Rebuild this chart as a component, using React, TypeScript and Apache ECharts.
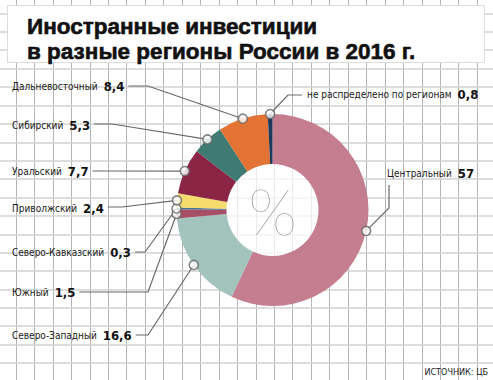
import React, { useEffect, useRef } from "react";
import * as echarts from "echarts";

const titleText = "Иностранные инвестиции\nв разные регионы России в 2016 г.";
const sourceText = "ИСТОЧНИК: ЦБ";
const regions = [
  "Центральный",
  "Северо-Западный",
  "Южный",
  "Северо-Кавказский",
  "Приволжский",
  "Уральский",
  "Сибирский",
  "Дальневосточный",
  "не распределено по регионам",
];
const shares = [57, 16.6, 1.5, 0.3, 2.4, 7.7, 5.3, 8.4, 0.8];
const colors = [
  "#C47E8F",
  "#A3C4BD",
  "#A84F68",
  "#4A6F8F",
  "#F6DC6C",
  "#8A2545",
  "#3F7B72",
  "#E27334",
  "#1C3A5B",
];

// layout only: label anchor and leader-line bend point per region
type Place = { x: number; y: number; side: "left" | "right" | "up"; bend: number[]; end?: number[] };
const placement: Place[] = [
  { x: 387, y: 173, side: "up", bend: [389, 208], end: [389, 185] },
  { x: 12, y: 335, side: "left", bend: [148, 335] },
  { x: 12, y: 292, side: "left", bend: [148, 292] },
  { x: 12, y: 252, side: "left", bend: [145, 252] },
  { x: 12, y: 208, side: "left", bend: [122, 207] },
  { x: 12, y: 171, side: "left", bend: [110, 171] },
  { x: 12, y: 125, side: "left", bend: [112, 124] },
  { x: 12, y: 86, side: "left", bend: [148, 86] },
  { x: 307, y: 94, side: "right", bend: [288, 95] },
];

const CX = 272.5;
const CY = 210;
const R0 = 46;
const R1 = 96;
const W = 493;
const H = 380;
const COND = "'DejaVu Sans Condensed', 'Liberation Sans Narrow', sans-serif";

export default function App() {
  const ref = useRef<HTMLDivElement>(null);
  useEffect(() => {
    document.body.style.margin = "0";
    const chart = echarts.init(ref.current!, null, { renderer: "svg" });

    const total = shares.reduce((a, b) => a + b, 0);
    const mids: number[] = [];
    let acc = 0;
    shares.forEach((v) => {
      mids.push(acc + v / 2);
      acc += v;
    });

    const grid: any[] = [];
    for (let x = 15.7; x < W; x += 18.45) {
      grid.push({
        type: "line",
        silent: true,
        z: -10,
        shape: { x1: Math.round(x) + 0.5, y1: 0, x2: Math.round(x) + 0.5, y2: H },
        style: { stroke: "#b4b4b4", lineWidth: 1 },
      });
    }
    for (let y = 13.7; y < H; y += 18.4) {
      grid.push({
        type: "line",
        silent: true,
        z: -10,
        shape: { x1: 0, y1: Math.round(y), x2: W, y2: Math.round(y) },
        style: { stroke: "#d2d2d2", lineWidth: 1.6 },
      });
    }

    chart.setOption({
      animation: false,
      backgroundColor: "#ffffff",
      title: {
        text: titleText,
        left: 22,
        top: 9,
        textStyle: {
          fontFamily: "'Liberation Sans', Arial, sans-serif",
          fontWeight: "bold",
          fontSize: 22.5,
          lineHeight: 25,
          color: "#111111",
          textBorderColor: "#111111",
          textBorderWidth: 0.6,
        },
      },
      graphic: [
        ...grid,
        {
          type: "rect",
          z: -5,
          silent: true,
          shape: { x: 7.5, y: 5.5, width: 477, height: 57 },
          style: { fill: "#ffffff", stroke: "#dcdcdc", lineWidth: 1 },
        },
        {
          type: "circle",
          z: -4,
          silent: true,
          shape: { cx: CX, cy: CY, r: R0 },
          style: { fill: "rgba(255,255,255,0.72)" },
        },
        {
          type: "text",
          z: 10,
          silent: true,
          x: CX,
          y: CY,
          style: {
            text: "%",
            fontFamily: "Lato, Roboto, sans-serif",
            fontWeight: 200,
            fontSize: 64,
            fill: "#8a929c",
            align: "center",
            verticalAlign: "middle",
          },
        },
        {
          type: "text",
          z: 10,
          silent: true,
          x: 488,
          y: 372,
          style: {
            text: sourceText,
            fontFamily: COND,
            fontSize: 9,
            fill: "#222222",
            align: "right",
            verticalAlign: "middle",
          },
        },
      ],
      polar: { center: [CX, CY], radius: R1 },
      angleAxis: { type: "value", min: 0, max: total, startAngle: 90, show: false },
      radiusAxis: { type: "value", min: 0, max: 1, show: false },
      series: [
        {
          type: "pie",
          center: [CX, CY],
          radius: [R0, R1],
          startAngle: 90,
          clockwise: true,
          avoidLabelOverlap: false,
          silent: true,
          data: regions.map((name, i) => ({
            name,
            value: shares[i],
            itemStyle: { color: colors[i] },
          })),
          label: {
            show: true,
            position: "outside",
            formatter: (p: any) =>
              `{n|${p.name}}{v|${String(p.value).replace(".", ",")}}`,
            rich: {
              n: { fontFamily: COND, fontSize: 10, color: "#1a1a1a" },
              v: {
                fontFamily: COND,
                fontSize: 13,
                fontWeight: "bold",
                color: "#111111",
                padding: [0, 0, 0, 6],
              },
            },
          },
          labelLine: {
            show: true,
            lineStyle: { color: "#6a6a6a", width: 1.2 },
          },
          labelLayout: (p: any) => {
            const pl = placement[p.dataIndex];
            const start = p.labelLinePoints ? p.labelLinePoints[0] : [CX, CY];
            let end: number[];
            if (pl.side === "left") end = [pl.x + p.labelRect.width + 4, pl.bend[1]];
            else if (pl.side === "right") end = [pl.x - 5, pl.bend[1]];
            else end = pl.end as number[];
            return {
              x: pl.x,
              y: pl.y,
              align: "left",
              verticalAlign: "middle",
              labelLinePoints: [start, pl.bend, end],
            };
          },
        },
        {
          type: "scatter",
          coordinateSystem: "polar",
          z: 6,
          silent: true,
          symbol: "circle",
          symbolSize: 9,
          itemStyle: { color: "#ffffff", borderColor: "#666666", borderWidth: 1.6 },
          data: mids.map((m) => [1, m]),
        },
      ],
    });
    return () => chart.dispose();
  }, []);
  return <div ref={ref} style={{ width: W, height: H }} />;
}
